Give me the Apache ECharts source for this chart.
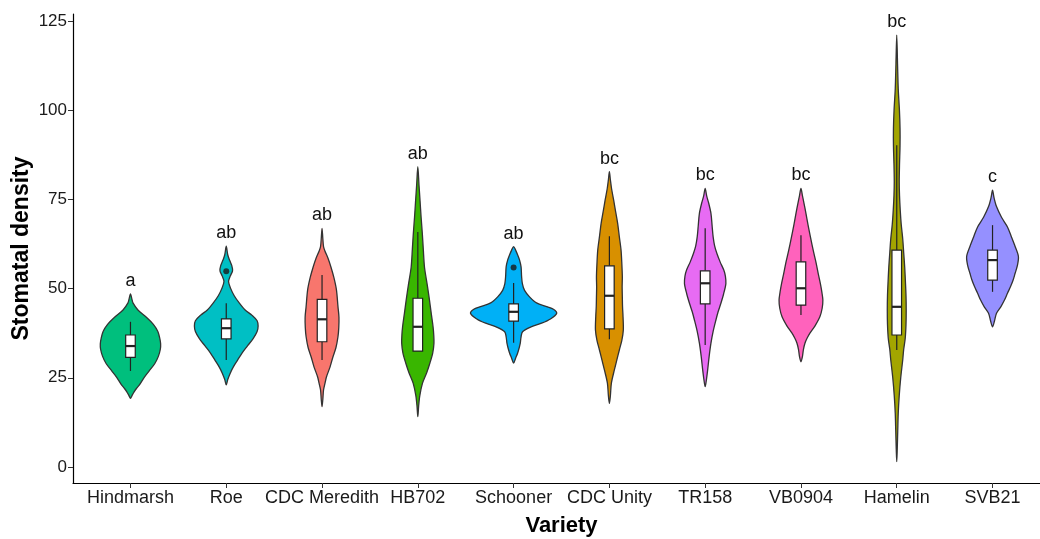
<!DOCTYPE html>
<html>
<head>
<meta charset="utf-8">
<title>Stomatal density by variety</title>
<script src="https://cdn.jsdelivr.net/npm/echarts@6/dist/echarts.min.js"></script>
<style>
  html, body { margin: 0; padding: 0; background: #fff; }
  #chart { width: 1040px; height: 539px; }
</style>
</head>
<body>
<div id="chart"></div>
<script>
// Varieties in plotting order, their fills and significance letters
const varieties = ['Hindmarsh', 'Roe', 'CDC Meredith', 'HB702', 'Schooner', 'CDC Unity', 'TR158', 'VB0904', 'Hamelin', 'SVB21'];
const fills = ['#00BF7D', '#00BFC4', '#F8766D', '#39B600', '#00B0F6', '#D89000', '#E76BF3', '#FF62BC', '#A3A500', '#9590FF'];
const letters = ['a', 'ab', 'ab', 'ab', 'ab', 'bc', 'bc', 'bc', 'bc', 'c'];
const yTicks = [0, 25, 50, 75, 100, 125];

// Kernel density profiles: [stomatal density, relative density]
const densityHindmarsh = [[19.2, 0], [20, 1.5], [21, 3.5], [22, 6], [23, 9], [25, 13.5], [27, 19], [29, 24.5], [31, 28], [33, 30], [34.5, 30.3], [36, 29.5], [38, 27.5], [40, 23], [42, 16], [44, 7.5], [46, 2.5], [47, 1.5], [48.5, 0]];
const densityRoe = [[23, 0], [24.5, 1.5], [26.3, 4], [28, 7], [30, 11.5], [32, 16], [34, 21.5], [36, 27], [38, 31], [39.5, 32], [41, 31], [42.5, 26], [44, 19], [46, 13], [48, 8], [50, 4.5], [52, 2.3], [53.5, 4], [55, 6.3], [56.5, 5.5], [58, 3.3], [59.5, 1.5], [61.9, 0]];
const densityMeredith = [[16.9, 0], [19, 0.8], [21.6, 1.5], [23.5, 3], [25.3, 4.5], [28, 8], [30.9, 11], [33.5, 14], [36.5, 16], [39, 16.8], [42, 17], [45, 16], [49.6, 14.5], [53, 12], [56, 9], [58.5, 6], [60.5, 3], [61.8, 1.5], [64, 0.8], [66.9, 0]];
const densityHB702 = [[14.1, 0], [17, 0.8], [20, 2], [23.5, 4.7], [26.5, 9], [29, 12], [32, 15], [34.7, 16.2], [37, 16], [39.3, 15.3], [43, 13.5], [46.8, 11.7], [51, 9.5], [56, 6.7], [61, 5.5], [65.5, 4.5], [70, 3.3], [74.8, 2.2], [79, 1.2], [84.2, 0]];
const densitySchooner = [[29.1, 0], [30.5, 2], [31.9, 4], [33.5, 5.7], [34.7, 6.7], [36.5, 7.5], [37.9, 9], [39.2, 17], [40.3, 28], [41.5, 37], [43.1, 43.3], [44.2, 40], [44.9, 34], [46, 23], [47.7, 16], [49.5, 11], [51.4, 8.8], [53.5, 8], [56.1, 7.5], [58, 6], [59.5, 4], [60.8, 2], [61.8, 0]];
const densityUnity = [[17.8, 0], [20, 1], [23.5, 2], [27.2, 5], [30, 7.5], [32.8, 10], [35.5, 12.5], [38.4, 14], [42.1, 13.7], [45, 13.2], [47.7, 13], [50.5, 12.8], [53.3, 13], [57, 12.5], [60.8, 11.7], [64.5, 10], [68.3, 8.3], [71.5, 6.3], [74.8, 4.3], [78, 2.2], [80.5, 1], [82.8, 0]];
const densityTR158 = [[22.5, 0], [25, 1.5], [27.2, 2.5], [31, 4], [34.7, 5.8], [38, 8], [41.2, 10.8], [43.5, 13], [45.9, 15.8], [48.5, 18.5], [51.4, 20.8], [53.5, 20.3], [55.2, 18.7], [57.5, 15], [59.9, 11.7], [62, 9.5], [64.5, 8], [67.5, 7], [71.1, 5.8], [74, 3.5], [76, 1.5], [78.1, 0]];
const densityVB0904 = [[29.5, 0], [31, 1.5], [33, 2.5], [34.7, 4], [36, 6], [37.5, 9], [39.5, 14], [42.1, 19], [44.5, 21.3], [46.8, 22], [49, 21], [51.4, 19.5], [54, 17.5], [57.1, 15.3], [60.5, 12.5], [64.5, 9.5], [68, 7], [71.1, 5], [74, 3], [76, 1.5], [78.1, 0]];
const densityHamelin = [[1.5, 0], [5, 0.5], [10, 1], [15, 1.5], [20, 2.5], [25, 4], [30, 6], [33, 7], [36, 8.5], [40, 9.3], [44, 9.5], [48, 9.3], [52, 8.7], [56, 8], [60, 7], [64, 6], [68, 4.5], [72, 3.5], [76, 2.8], [80, 2.5], [85, 2.8], [90, 3.3], [95, 3.3], [100, 2.7], [106, 1.5], [113, 0.8], [121.1, 0]];
const densitySVB21 = [[39.3, 0], [41, 2], [43.1, 4], [44.9, 8.3], [46.8, 12], [48.7, 15], [50.5, 18], [52.4, 20.7], [54.3, 22.7], [56.5, 25], [59, 26], [61.8, 22.7], [64.5, 19], [67.3, 15], [70, 9], [73, 4], [75.5, 1.5], [77.6, 0]];
const densities = [densityHindmarsh, densityRoe, densityMeredith, densityHB702, densitySchooner, densityUnity, densityTR158, densityVB0904, densityHamelin, densitySVB21];

// Box plot summaries
const whiskerLow = [26.9, 30.0, 30.0, 32.5, 34.8, 35.8, 34.2, 42.6, 32.8, 49.1];
const lowerQuartile = [30.7, 35.9, 35.1, 32.5, 40.9, 38.7, 45.7, 45.4, 37.0, 52.4];
const medians = [33.9, 38.9, 41.4, 39.3, 43.5, 48.0, 51.5, 50.1, 44.9, 58.0];
const upperQuartile = [37.0, 41.5, 47.0, 47.3, 45.7, 56.4, 55.0, 57.5, 60.8, 60.8];
const whiskerHigh = [40.7, 45.9, 53.8, 65.9, 51.6, 64.7, 66.9, 65.0, 90.2, 67.8];

// Outlying observations: [variety position, value]
const outliers = [[2, 54.9], [5, 55.9]];

const positions = varieties.map((_, i) => i + 1);
const maxDensity = Math.max(...densities.map(p => Math.max(...p.map(d => d[1]))));
const VIOLIN_HALF = 0.45;   // widest violin spans 0.9 of a category
const BOX_HALF = 0.05;      // box width 0.1 of a category
const FONT = '"Liberation Sans", Arial, Helvetica, sans-serif';
const OUTLINE = '#333333';

function renderViolin(params, api) {
  const i = params.dataIndex;
  const x = positions[i];
  const prof = densities[i];
  const k = VIOLIN_HALF / maxDensity;
  const pts = [];
  for (let j = 0; j < prof.length; j++) {
    pts.push(api.coord([x + prof[j][1] * k, prof[j][0]]));
  }
  for (let j = prof.length - 2; j >= 1; j--) {
    pts.push(api.coord([x - prof[j][1] * k, prof[j][0]]));
  }
  return {
    type: 'polygon',
    shape: { points: pts, smooth: 0.3 },
    style: { fill: fills[i], stroke: OUTLINE, lineWidth: 1.3 }
  };
}

function renderBox(params, api) {
  const i = params.dataIndex;
  const x = positions[i];
  const pLow = api.coord([x, whiskerLow[i]]);
  const pQ1 = api.coord([x, lowerQuartile[i]]);
  const pQ3 = api.coord([x, upperQuartile[i]]);
  const pHigh = api.coord([x, whiskerHigh[i]]);
  const left = api.coord([x - BOX_HALF, medians[i]]);
  const right = api.coord([x + BOX_HALF, medians[i]]);
  const lineStyle = { stroke: '#222', lineWidth: 1.2 };
  return {
    type: 'group',
    children: [
      { type: 'line', shape: { x1: pLow[0], y1: pLow[1], x2: pQ1[0], y2: pQ1[1] }, style: lineStyle },
      { type: 'line', shape: { x1: pQ3[0], y1: pQ3[1], x2: pHigh[0], y2: pHigh[1] }, style: lineStyle },
      { type: 'rect', shape: { x: left[0], y: pQ3[1], width: right[0] - left[0], height: pQ1[1] - pQ3[1] },
        style: { fill: '#fff', stroke: '#222', lineWidth: 1.2 } },
      { type: 'line', shape: { x1: left[0], y1: left[1], x2: right[0], y2: right[1] },
        style: { stroke: '#222', lineWidth: 2.2 } }
    ]
  };
}

// Significance letters sit just above each violin's upper tip
function renderLetter(params, api) {
  const i = params.dataIndex;
  const prof = densities[i];
  const tip = api.coord([positions[i], prof[prof.length - 1][0]]);
  return {
    type: 'text',
    style: {
      x: tip[0], y: tip[1] - 4,
      text: letters[i],
      align: 'center', verticalAlign: 'bottom',
      fill: '#111', font: '18px ' + FONT
    }
  };
}

const chart = echarts.init(document.getElementById('chart'), null, { renderer: 'canvas' });
chart.setOption({
  animation: false,
  backgroundColor: '#ffffff',
  textStyle: { fontFamily: FONT },
  grid: { left: 73, right: -10, top: 14, bottom: 56, containLabel: false, outerBoundsMode: 'none' },
  xAxis: {
    type: 'value',
    min: 0.4,
    max: 10.6,
    splitLine: { show: false },
    axisLine: { show: true, onZero: false, lineStyle: { color: '#000', width: 1.2 } },
    axisTick: { show: true, customValues: positions, length: 5, lineStyle: { color: OUTLINE } },
    axisLabel: {
      customValues: positions,
      formatter: v => varieties[Math.round(v) - 1],
      fontSize: 18, color: '#1a1a1a', margin: 6, fontFamily: FONT
    },
    name: 'Variety',
    nameLocation: 'middle',
    nameGap: 32,
    nameMoveOverlap: false,
    nameTextStyle: { fontSize: 22, fontWeight: 'bold', color: '#000', fontFamily: FONT }
  },
  yAxis: {
    type: 'value',
    min: -4.5,
    max: 127,
    splitLine: { show: false },
    axisLine: { show: true, onZero: false, lineStyle: { color: '#000', width: 1.2 } },
    axisTick: { show: true, customValues: yTicks, length: 5, lineStyle: { color: OUTLINE } },
    axisLabel: { customValues: yTicks, fontSize: 17, color: '#1a1a1a', margin: 6, fontFamily: FONT },
    name: 'Stomatal density',
    nameLocation: 'middle',
    nameGap: 40,
    nameRotate: 90,
    nameMoveOverlap: false,
    nameTextStyle: { fontSize: 23, fontWeight: 'bold', color: '#000', fontFamily: FONT }
  },
  series: [
    {
      name: 'violin',
      type: 'custom',
      renderItem: renderViolin,
      data: positions.map(p => [p]),
      encode: { x: 0 },
      z: 2,
      silent: true
    },
    {
      name: 'box',
      type: 'custom',
      renderItem: renderBox,
      data: positions.map(p => [p]),
      encode: { x: 0 },
      z: 3,
      silent: true
    },
    {
      name: 'outliers',
      type: 'scatter',
      data: outliers,
      symbolSize: 6,
      itemStyle: { color: '#1a1a1a' },
      z: 4,
      silent: true
    },
    {
      name: 'letters',
      type: 'custom',
      renderItem: renderLetter,
      data: positions.map(p => [p]),
      encode: { x: 0 },
      z: 5,
      silent: true
    }
  ]
});
</script>
</body>
</html>
